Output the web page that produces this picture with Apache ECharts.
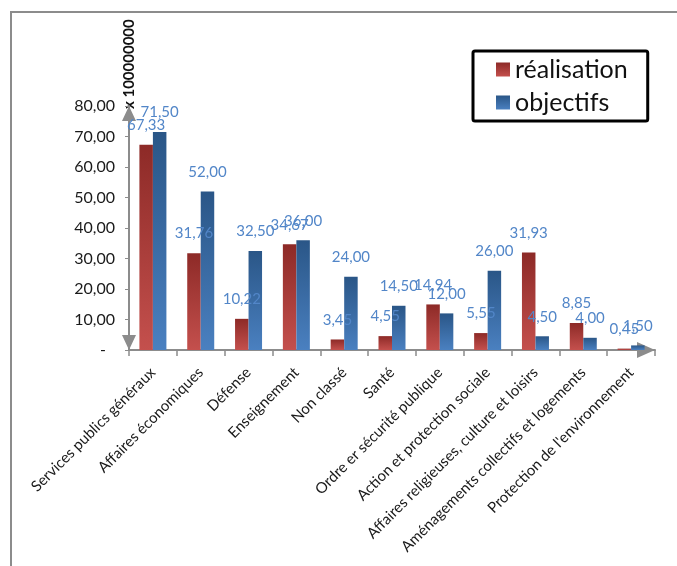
<!DOCTYPE html>
<html>
<head>
<meta charset="utf-8">
<script src="https://cdn.jsdelivr.net/npm/echarts@6/dist/echarts.min.js"></script>
<style>
html,body{margin:0;padding:0;background:#fff;}
#c{width:677px;height:566px;}
</style>
</head>
<body>
<div id="c"></div>
<script>
const categories = [
  "Services publics généraux",
  "Affaires économiques",
  "Défense",
  "Enseignement",
  "Non classé",
  "Santé",
  "Ordre er sécurité publique",
  "Action et protection sociale",
  "Affaires religieuses, culture et loisirs",
  "Aménagements collectifs et logements",
  "Protection de l'environnement"
];
const realisation = [67.33, 31.76, 10.22, 34.67, 3.45, 4.55, 14.94, 5.55, 31.93, 8.85, 0.45];
const objectifs = [71.50, 52.00, 32.50, 36.00, 24.00, 14.50, 12.00, 26.00, 4.50, 4.00, 1.50];
const seriesNames = ["réalisation", "objectifs"];
const yMin = 0, yMax = 80, yInterval = 10;
const unitLabel = "x 100000000";

const FONT = "Lato";
const fmt = v => Number(v).toFixed(2).replace('.', ',');

const chart = echarts.init(document.getElementById('c'), null, {renderer: 'canvas'});
const redGrad = new echarts.graphic.LinearGradient(0, 0, 0, 1, [
  {offset: 0, color: '#8d2a27'}, {offset: 1, color: '#c4504d'}
]);
const blueGrad = new echarts.graphic.LinearGradient(0, 0, 0, 1, [
  {offset: 0, color: '#2a5687'}, {offset: 1, color: '#4a80c0'}
]);
const labelStyle = {
  show: true, position: 'top', distance: 12,
  color: '#5286c8', fontSize: 15, fontFamily: FONT,
  formatter: p => fmt(p.value)
};
chart.setOption({
  animation: false,
  backgroundColor: '#fff',
  textStyle: {fontFamily: FONT},
  graphic: [{
    type: 'rect', z: -10, silent: true,
    shape: {x: 11, y: 12, width: 800, height: 700},
    style: {fill: 'none', stroke: '#8c8c8c', lineWidth: 2}
  }],
  legend: {
    orient: 'vertical', left: 473, top: 51,
    data: seriesNames, icon: 'rect',
    itemWidth: 14, itemHeight: 14, itemGap: 8,
    textStyle: {fontSize: 25, color: '#111', fontFamily: FONT},
    borderColor: '#000', borderWidth: 3, borderRadius: 2,
    padding: [6, 20, 6, 23]
  },
  grid: {left: 129, right: 22, top: 106, bottom: 216, containLabel: false},
  xAxis: {
    type: 'category', data: categories,
    axisLine: {show: true, lineStyle: {color: '#8c8c8c', width: 2},
      symbol: ['none', 'triangle'], symbolSize: [16, 18], symbolOffset: [0, -9]},
    axisTick: {show: true, length: 6, lineStyle: {color: '#8c8c8c', width: 1.5}},
    axisLabel: {rotate: 45, margin: 20, fontSize: 15, color: '#1a1a1a', fontFamily: FONT, interval: 0}
  },
  yAxis: {
    type: 'value', min: yMin, max: yMax, interval: yInterval,
    name: unitLabel, nameLocation: 'end', nameRotate: 90, nameGap: -3,
    nameTextStyle: {fontWeight: 'bold', fontSize: 15, color: '#111', fontFamily: FONT, padding: [0, 0, 12, 0]},
    axisLine: {show: true, lineStyle: {color: '#8c8c8c', width: 2},
      symbol: ['triangle', 'triangle'], symbolSize: [14, 15], symbolOffset: [7.5, -7.5]},
    axisTick: {show: true, length: 4, lineStyle: {color: '#8c8c8c'}},
    splitLine: {show: false},
    axisLabel: {
      margin: 14, fontSize: 16, color: '#1a1a1a', fontFamily: FONT,
      formatter: v => v === 0 ? '{z|-}' : fmt(v),
      rich: {z: {padding: [0, 9, 0, 0], fontSize: 16, color: '#1a1a1a'}}
    }
  },
  series: [
    {name: seriesNames[0], type: 'bar', data: realisation, barWidth: 13.5, barGap: '0%',
      itemStyle: {color: redGrad}, label: labelStyle},
    {name: seriesNames[1], type: 'bar', data: objectifs, barWidth: 13.5, barGap: '0%',
      itemStyle: {color: blueGrad}, label: labelStyle}
  ]
});
</script>
</body>
</html>
